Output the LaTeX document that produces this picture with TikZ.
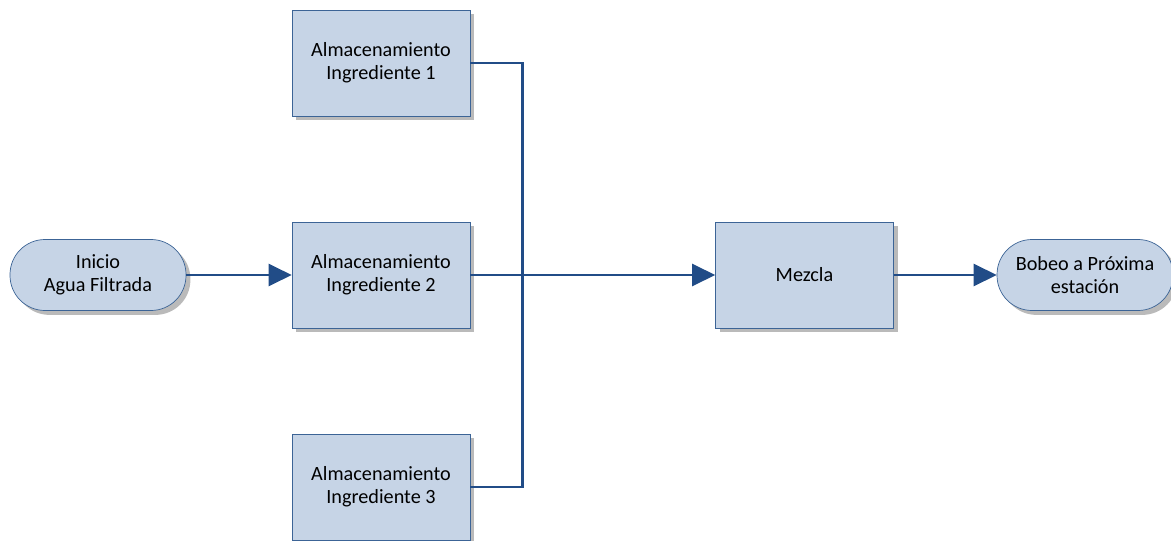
\documentclass[tikz,border=0pt]{standalone}
\usepackage{fontspec}
\setmainfont{Carlito}
\usepackage{xcolor}
\usepackage{tikz}
\usetikzlibrary{positioning, shadows, arrows.meta}

\definecolor{cajafondo}{RGB}{198,212,230}
\definecolor{cajaborde}{RGB}{60,100,150}
\definecolor{linea}{RGB}{33,76,135}

\begin{document}
\begin{tikzpicture}[node distance=5.66cm, on grid, auto,
    every node/.style={font=\fontsize{11.5}{13}\selectfont, align=center},
    proceso/.style={draw=cajaborde, fill=cajafondo, thin, minimum width=3.56cm, minimum height=2.12cm,
        drop shadow={shadow xshift=2.5pt, shadow yshift=-2.5pt, fill=black!45, opacity=0.6}},
    terminal/.style={draw=cajaborde, fill=cajafondo, thin, rounded corners=0.7cm,
        minimum width=3.52cm, minimum height=1.42cm,
        drop shadow={shadow xshift=2.5pt, shadow yshift=-2.5pt, fill=black!45, opacity=0.6}},
    flujo/.style={color=linea, line width=1.6pt, -{Triangle[length=4.6mm, width=4.4mm, color=linea]}}]
        \useasboundingbox (0,0) rectangle (23.42,-10.8);

        \node[terminal] (ini) at (1.96,-5.5) {Inicio\\Agua Filtrada};
        \node[proceso] (ing2) [right=of ini] {Almacenamiento\\Ingrediente 2};
        \node[proceso] (ing1) [above=4.24 of ing2] {Almacenamiento\\Ingrediente 1};
        \node[proceso] (ing3) [below=4.24 of ing2] {Almacenamiento\\Ingrediente 3};
        \node[proceso] (mez) [right=8.47 of ing2] {Mezcla};
        \node[terminal] (fin) [right=5.61 of mez] {Bobeo a Próxima\\estación};

        \coordinate (bus) at ([xshift=1.04cm]ing2.east);

        \draw[flujo] (ini) -- (ing2);
        \draw[flujo] (ing2) -- (mez);
        \draw[flujo] (mez) -- (fin);
        \draw[color=linea, line width=1.6pt] (ing1.east) -| (bus) |- (ing3.east);

    \end{tikzpicture}
\end{document}
